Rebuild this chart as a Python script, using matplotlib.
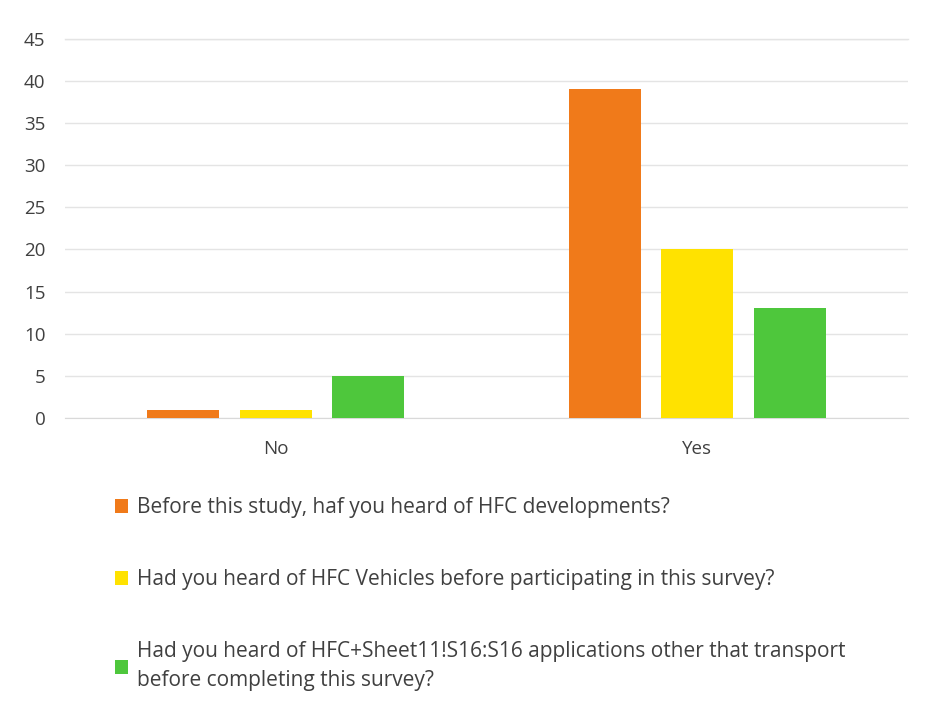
import matplotlib
matplotlib.use("Agg")
import matplotlib.pyplot as plt
import numpy as np

categories = ["No", "Yes"]
series_labels = [
    "Before this study, haf you heard of HFC developments?",
    "Had you heard of HFC Vehicles before participating in this survey?",
    "Had you heard of HFC+Sheet11!S16:S16 applications other that transport\nbefore completing this survey?",
]
series_values = [
    [1, 39],
    [1, 20],
    [5, 13],
]
colors = ["#F07A1A", "#FFE200", "#4EC73C"]
yticks = [0, 5, 10, 15, 20, 25, 30, 35, 40, 45]

TEXT = "#404040"
plt.rcParams["font.family"] = ["Open Sans", "Liberation Sans", "DejaVu Sans"]

fig = plt.figure(figsize=(9.31, 7.08), dpi=100)
ax = fig.add_axes([0.0698, 0.4096, 0.9055, 0.536])

x = np.arange(len(categories))
width = 0.171
step = 0.219
bars = []
for i, (vals, col) in enumerate(zip(series_values, colors)):
    b = ax.bar(x + (i - 1) * step, vals, width, color=col, zorder=3)
    bars.append(b)

ax.set_xlim(-0.5, 1.5)
ax.set_ylim(0, 45)
ax.set_yticks(yticks)
ax.yaxis.grid(True, color="#E4E4E4", linewidth=1, zorder=0)
ax.axhline(45, color="#E4E4E4", linewidth=1, clip_on=False, zorder=0)
for s in ax.spines.values():
    s.set_visible(False)
ax.spines["bottom"].set_visible(True)
ax.spines["bottom"].set_color("#D9D9D9")
ax.set_xticks(x)
ax.set_xticklabels(categories)
ax.tick_params(axis="both", length=0, labelsize=13.5, labelcolor=TEXT)
ax.tick_params(axis="y", pad=14)
ax.tick_params(axis="x", pad=16)

leg = fig.legend(
    bars, series_labels, loc="upper left", bbox_to_anchor=(0.103, 0.324),
    frameon=False, fontsize=15, labelcolor=TEXT, handlelength=0.65,
    handleheight=0.65, handletextpad=0.4, labelspacing=2.45,
)
leg.get_texts()[2].set_linespacing(1.5)

fig.savefig("out.png", dpi=100)
